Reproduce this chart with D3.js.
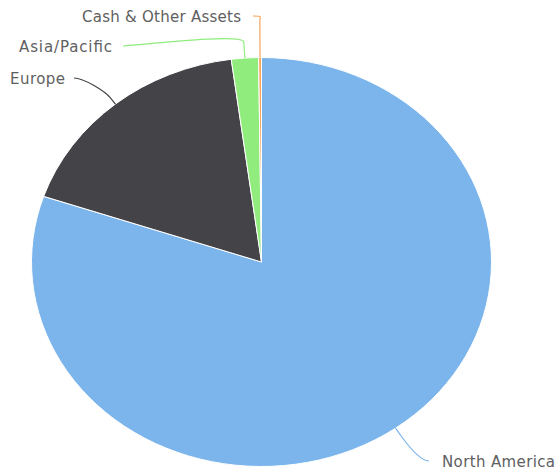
<!DOCTYPE html>
<html>
<head>
<meta charset="utf-8">
<script src="https://cdn.jsdelivr.net/npm/d3@7"></script>
<style>
  html, body { margin: 0; padding: 0; background: #fff; }
  svg { display: block; }
  .lbl { font-family: "DejaVu Sans", Verdana, sans-serif; font-size: 15px; fill: #606060; }
</style>
</head>
<body>
<svg id="chart" width="560" height="470"></svg>
<script>
// Regional allocation (% of portfolio)
const categories = ["North America", "Europe", "Asia/Pacific", "Cash & Other Assets"];
const values = [80.2, 17.7, 1.9, 0.2];
const colors = ["#7cb5ec", "#434348", "#90ed7d", "#f7a35c"];

// Layout: pie ellipse and label placement
const W = 560, H = 470;
const cx = 261.5, cy = 262, rx = 230, ry = 204.5;
// per-label layout: connector end near the text (lx, ly), outward break distance,
// text side, gap between text and connector, and the set text width
const labelLayout = {
  "North America":       { lx: 429, ly: 461, d: 8,  side: "right", gap: 13, w: 113 },
  "Europe":              { lx: 74,  ly: 78,  d: 8,  side: "left",  gap: 9,  w: 55 },
  "Asia/Pacific":        { lx: 123, ly: 46,  d: 16, side: "left",  gap: 11, w: 93 },
  "Cash & Other Assets": { lx: 253, ly: 16,  d: 36, side: "left",  gap: 12, w: 159 }
};

const svg = d3.select("#chart");
const data = categories.map((c, i) => ({ name: c, value: values[i], color: colors[i] }));

const pie = d3.pie().value(d => d.value).sort(null).startAngle(0).endAngle(2 * Math.PI);
const arcs = pie(data);
const arc = d3.arc().innerRadius(0).outerRadius(rx);

// slices drawn on a circle, squashed vertically into an ellipse
const g = svg.append("g").attr("transform", `translate(${cx},${cy}) scale(1,${ry / rx})`);
g.selectAll("path.slice")
  .data(arcs)
  .join("path")
  .attr("class", "slice")
  .attr("d", arc)
  .attr("fill", d => d.data.color)
  .attr("stroke", "#ffffff")
  .attr("stroke-width", 1)
  .attr("stroke-linejoin", "round")
  .attr("vector-effect", "non-scaling-stroke");

// point on the (expanded) ellipse at a pie angle
function edgePoint(a, extra) {
  return [cx + (rx + extra) * Math.sin(a), cy - (ry + extra) * Math.cos(a)];
}

const labels = svg.append("g");
arcs.forEach(d => {
  const lay = labelLayout[d.data.name];
  const mid = (d.startAngle + d.endAngle) / 2;
  const A = edgePoint(mid, 0);
  const B = edgePoint(mid, lay.d);
  const dir = lay.side === "left" ? 1 : -1;
  const k = lay.d > 20 ? 0.15 : (lay.d > 10 ? 0.6 : 1);
  const c1 = [lay.lx + dir * 10, lay.ly];
  const c2 = [B[0] + (B[0] - A[0]) * k, B[1] + (B[1] - A[1]) * k];
  const p = d3.path();
  p.moveTo(lay.lx, lay.ly);
  p.bezierCurveTo(c1[0], c1[1], c2[0], c2[1], B[0], B[1]);
  p.lineTo(A[0], A[1]);
  labels.append("path")
    .attr("d", p.toString())
    .attr("fill", "none")
    .attr("stroke", d.data.color)
    .attr("stroke-width", 1.2);

  labels.append("text")
    .attr("class", "lbl")
    .attr("x", lay.side === "left" ? lay.lx - lay.gap - lay.w : lay.lx + lay.gap)
    .attr("y", lay.ly + 6)
    .attr("textLength", lay.w)
    .attr("lengthAdjust", "spacing")
    .text(d.data.name);
});
</script>
</body>
</html>
